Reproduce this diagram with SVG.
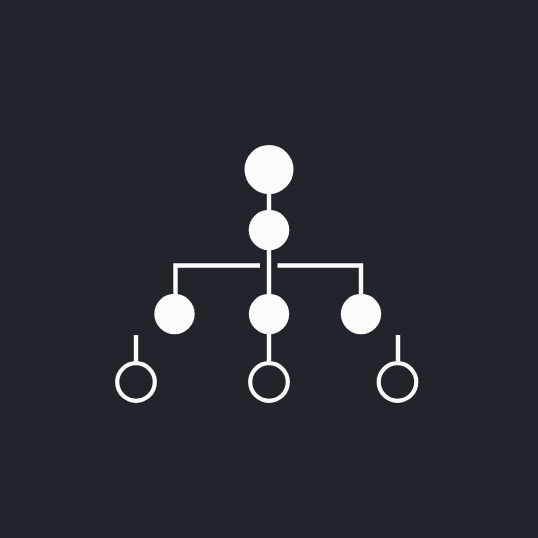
<svg xmlns="http://www.w3.org/2000/svg" width="538" height="538" viewBox="0 0 538 538">
  <style>
    .bg { fill: #22242b; }
    .solid { fill: #fbfbfb; }
    .ring { fill: none; stroke: #fbfbfb; stroke-width: 4.2; }
    .edge { fill: none; stroke: #fbfbfb; stroke-width: 4.4; stroke-linecap: butt; }
  </style>
  <rect class="bg" x="0" y="0" width="538" height="538"/>
  <g id="connectors">
    <line class="edge" x1="269" y1="190" x2="269" y2="214"/>
    <line class="edge" x1="269" y1="246" x2="269" y2="298"/>
    <polyline class="edge" points="175.5,296 175.5,265.5 260,265.5"/>
    <polyline class="edge" points="277.5,265.5 361,265.5 361,296"/>
    <line class="edge" x1="269" y1="330" x2="269" y2="364"/>
    <line class="edge" x1="136" y1="335" x2="136" y2="364"/>
    <line class="edge" x1="398" y1="335" x2="398" y2="364"/>
  </g>
  <g id="root"><circle class="solid" cx="269" cy="169.5" r="24.5"/></g>
  <g id="hub"><circle class="solid" cx="269" cy="230" r="20.3"/></g>
  <g id="mid-left"><circle class="solid" cx="174.5" cy="314" r="20.2"/></g>
  <g id="mid-center"><circle class="solid" cx="269" cy="314" r="20.2"/></g>
  <g id="mid-right"><circle class="solid" cx="361" cy="314" r="20.2"/></g>
  <g id="leaf-left"><circle class="ring" cx="136" cy="382" r="18.8"/></g>
  <g id="leaf-center"><circle class="ring" cx="269" cy="382" r="18.8"/></g>
  <g id="leaf-right"><circle class="ring" cx="397.5" cy="382" r="18.8"/></g>
</svg>
